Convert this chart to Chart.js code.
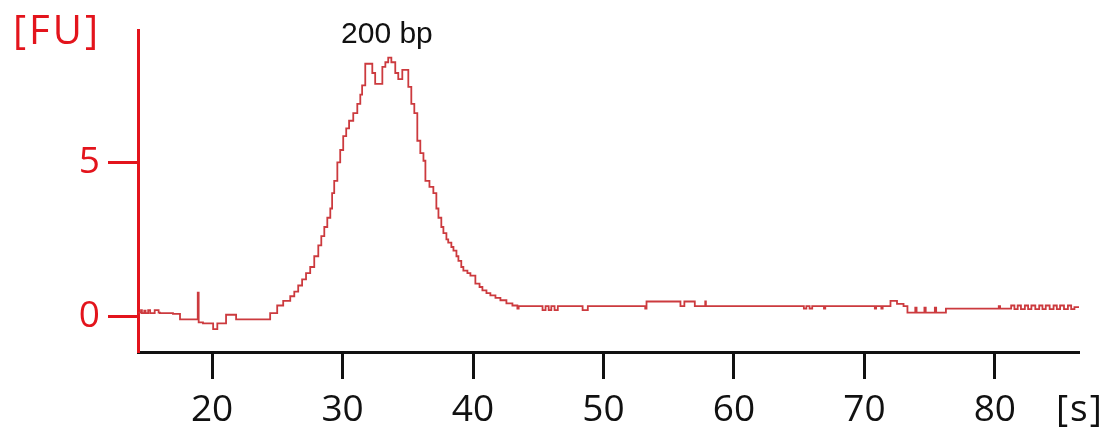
<!DOCTYPE html>
<html>
<head>
<meta charset="utf-8">
<script src="https://cdn.jsdelivr.net/npm/chart.js@4/dist/chart.umd.min.js"></script>
<style>
  html, body { margin: 0; padding: 0; background: #fff; }
  #wrap { width: 1110px; height: 444px; position: relative; }
</style>
</head>
<body>
<div id="wrap"><canvas id="trace"></canvas></div>
<script>
// ── Data ───────────────────────────────────────────────────────────────────
const timeS = [
  14.35, 14.55, 14.62, 14.8, 14.9, 15.1, 15.25, 15.5, 15.6, 15.9, 16.0, 16.5, 17.0, 17.54,
  18.3, 18.9, 18.97, 19.3, 20.08, 20.4, 21.07, 21.84,
  23.91, 24.45, 24.99, 25.45, 25.99, 26.3, 26.6, 26.9, 27.2, 27.52, 27.83, 28.14, 28.37,
  28.6, 28.83, 29.06, 29.2, 29.36, 29.6, 29.82, 30.05, 30.28, 30.5, 30.82, 31.13, 31.36,
  31.5, 31.74, 32.05, 32.28, 32.5, 32.9, 33.05, 33.28, 33.5, 33.74, 34.04, 34.27, 34.58,
  34.9, 35.04, 35.27, 35.5, 35.73, 35.96, 36.2, 36.35, 36.66, 36.96, 37.19, 37.35, 37.57,
  37.73, 37.96, 38.1, 38.34, 38.5, 38.73, 38.88, 39.1, 39.26, 39.57, 39.8, 40.18, 40.5,
  40.72, 41.03, 41.33, 41.72, 42.1, 42.56, 43.02, 43.4, 43.5,
  45.33, 45.56, 45.8, 46.0, 46.25, 46.5, 48.4, 48.8,
  53.2, 53.3, 55.9, 56.2, 57.0, 57.8, 57.85, 57.95,
  65.36, 65.55, 65.8, 66.0, 66.9, 67.0, 70.8, 70.9, 71.3, 71.4,
  72.0, 72.5, 73.0, 73.3, 73.9, 74.0, 74.6, 74.7, 75.4, 75.5, 76.25, 76.8,
  80.3, 80.4, 81.25, 81.5, 81.75, 82.0, 82.3, 82.55, 82.8, 83.1, 83.4, 83.65, 83.9,
  84.2, 84.5, 84.75, 85.0, 85.3, 85.6, 85.85, 86.1, 86.45
];
const fluorescenceFU = [
  0.12, 0.2, 0.1, 0.18, 0.1, 0.2, 0.1, 0.1, 0.2, 0.12, 0.1, 0.1, 0.08, -0.1,
  -0.1, 0.77, -0.2, -0.23, -0.42, -0.23, 0.05, -0.1,
  -0.1, 0.1, 0.35, 0.5, 0.65, 0.8, 1.0, 1.2, 1.4, 1.6, 1.95, 2.3, 2.6,
  2.9, 3.2, 3.5, 4.0, 4.4, 5.0, 5.4, 5.85, 6.1, 6.35, 6.6, 6.9, 7.2,
  7.5, 8.2, 8.2, 7.9, 7.55, 7.55, 8.1, 8.25, 8.4, 8.25, 7.9, 7.7, 8.0,
  8.0, 7.45, 6.9, 6.6, 5.7, 5.3, 5.05, 4.4, 4.2, 4.0, 3.5, 3.2, 2.9,
  2.7, 2.5, 2.39, 2.25, 2.13, 1.95, 1.8, 1.6, 1.48, 1.4, 1.32, 1.06, 0.95,
  0.84, 0.75, 0.68, 0.6, 0.52, 0.42, 0.35, 0.25, 0.33,
  0.2, 0.33, 0.2, 0.33, 0.2, 0.33, 0.2, 0.33,
  0.25, 0.48, 0.33, 0.48, 0.33, 0.48, 0.33, 0.33,
  0.25, 0.33, 0.25, 0.33, 0.25, 0.33, 0.25, 0.33, 0.25, 0.33,
  0.5, 0.4, 0.33, 0.12, 0.28, 0.12, 0.28, 0.12, 0.28, 0.12, 0.25, 0.25,
  0.33, 0.25, 0.35, 0.23, 0.35, 0.23, 0.35, 0.23, 0.35, 0.23, 0.35, 0.23, 0.35,
  0.23, 0.35, 0.23, 0.35, 0.23, 0.35, 0.23, 0.3, 0.3
];
const xTicks = [20, 30, 40, 50, 60, 70, 80];
const yTicks = [0, 5];
const peakLabel = '200 bp';
const peakAt = { x: 33.4, y: 8.4 };

const RED = '#e3141c';
const TRACE = '#cc3a3e';

// ── Overlay text (unit labels + peak annotation) ────────────────────────────
const labelsPlugin = {
  id: 'labels',
  afterDraw(chart) {
    const ctx = chart.ctx;
    const xs = chart.scales.x, ys = chart.scales.y;
    ctx.save();
    ctx.textBaseline = 'middle';

    ctx.fillStyle = RED;
    ctx.font = '40px "Open Sans"';
    ctx.letterSpacing = '3px';
    ctx.textAlign = 'left';
    ctx.fillText('[FU]', 13, 33);

    ctx.fillStyle = '#111';
    ctx.letterSpacing = '2px';
    ctx.font = '37px "Open Sans"';
    ctx.fillText('[s]', 1056, 410);

    ctx.letterSpacing = '0px';
    ctx.font = '30px "Liberation Sans"';
    ctx.textAlign = 'center';
    ctx.fillText(peakLabel, xs.getPixelForValue(peakAt.x), ys.getPixelForValue(peakAt.y) - 23);
    ctx.restore();
  }
};

new Chart(document.getElementById('trace'), {
  type: 'line',
  data: {
    datasets: [{
      data: timeS.map((t, i) => ({ x: t, y: fluorescenceFU[i] })),
      borderColor: TRACE,
      borderWidth: 1.8,
      pointRadius: 0,
      stepped: true,
      fill: false,
    }]
  },
  options: {
    responsive: true,
    maintainAspectRatio: false,
    animation: false,
    layout: { padding: { top: 28, right: 31, left: 0, bottom: 0 } },
    plugins: { legend: { display: false }, tooltip: { enabled: false } },
    scales: {
      x: {
        type: 'linear',
        min: 14.32,
        max: 86.45,
        afterBuildTicks(scale) { scale.ticks = xTicks.map(v => ({ value: v })); },
        afterFit(scale) { scale.height = 92; },
        border: { color: '#111', width: 3 },
        grid: { drawOnChartArea: false, tickLength: 27, tickColor: '#111', tickWidth: 3 },
        ticks: { color: '#111', padding: 9, font: { family: 'Open Sans', size: 37 }, maxRotation: 0 }
      },
      y: {
        type: 'linear',
        min: -1.16,
        max: 9.29,
        afterBuildTicks(scale) { scale.ticks = yTicks.map(v => ({ value: v })); },
        afterFit(scale) { scale.width = 138; },
        border: { color: RED, width: 3 },
        grid: { drawOnChartArea: false, tickLength: 30, tickColor: RED, tickWidth: 3 },
        ticks: { color: RED, padding: 8, font: { family: 'Open Sans', size: 37 } }
      }
    }
  },
  plugins: [labelsPlugin]
});
</script>
</body>
</html>
